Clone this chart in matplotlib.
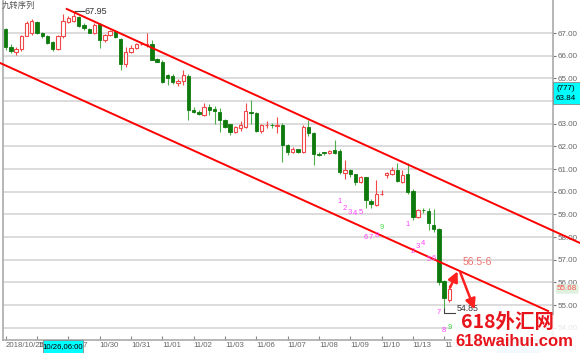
import matplotlib
matplotlib.use("Agg")
import matplotlib.pyplot as plt
from matplotlib.patches import Rectangle
import numpy as np

plt.rcParams["font.family"] = ["Liberation Sans", "Noto Sans CJK SC", "DejaVu Sans"]

# 4-hour candles (open, high, low, close)
opens = [67.16, 66.37, 66.15, 66.28, 66.87, 66.98, 67.50, 66.99, 66.87, 66.60,
         66.30, 66.87, 67.50, 67.54, 67.69, 67.35, 67.18, 67.01, 67.38, 66.69,
         66.90, 67.10, 66.74, 65.65, 66.16, 66.34, 66.50, 66.45, 66.50, 65.84,
         65.74, 65.15, 65.10, 64.78, 64.90, 65.10, 63.60, 63.53, 63.38, 63.75,
         63.64, 63.53, 63.16, 62.99, 62.65, 62.80, 62.84, 63.53, 63.46, 62.69,
         62.93, 62.95, 62.90, 62.96, 62.06, 61.77, 61.87, 61.77, 62.87, 62.57,
         61.66, 61.73, 61.69, 61.82, 61.80, 60.84, 60.95, 60.78, 60.44, 60.63,
         59.60, 59.41, 59.90, 60.75, 60.80, 60.95, 60.44, 60.80, 60.04, 58.90,
         59.19, 59.16, 58.53, 58.34, 56.08, 55.22]
highs = [67.20, 66.50, 66.40, 66.90, 67.55, 67.60, 67.55, 67.05, 66.90, 66.65,
         66.90, 67.85, 67.75, 67.95, 67.75, 67.45, 67.20, 67.45, 67.45, 66.95,
         67.15, 67.15, 66.80, 66.40, 66.45, 66.55, 66.58, 66.98, 66.70, 65.90,
         65.81, 65.20, 65.20, 64.98, 65.35, 65.20, 63.75, 63.60, 63.90, 63.85,
         63.80, 63.70, 63.20, 63.00, 62.90, 63.10, 63.90, 64.05, 63.53, 63.00,
         63.10, 63.05, 63.30, 63.05, 62.10, 61.98, 61.90, 62.95, 63.15, 62.65,
         61.75, 61.74, 61.85, 62.28, 61.90, 61.40, 61.00, 60.80, 60.70, 60.66,
         59.66, 60.51, 60.07, 60.88, 61.10, 61.25, 60.95, 61.25, 60.14, 59.25,
         59.26, 59.26, 59.22, 58.40, 56.10, 55.90]
lows = [66.25, 66.10, 66.05, 66.20, 66.85, 66.90, 66.95, 66.80, 66.50, 66.20,
        66.25, 66.80, 67.45, 67.50, 67.25, 67.15, 66.98, 66.95, 66.33, 66.60,
        66.85, 66.78, 65.37, 65.50, 66.10, 66.30, 66.45, 66.40, 65.80, 65.70,
        64.78, 64.70, 64.75, 64.67, 64.70, 63.16, 63.45, 63.40, 63.35, 63.40,
        63.00, 62.65, 62.80, 62.50, 62.60, 62.70, 62.80, 63.00, 62.65, 62.60,
        62.80, 62.80, 62.60, 61.32, 61.60, 61.72, 61.70, 61.70, 62.45, 61.17,
        61.58, 61.60, 61.65, 61.65, 60.80, 60.58, 60.66, 60.30, 60.40, 59.30,
        59.30, 59.37, 59.85, 60.60, 60.73, 60.44, 60.37, 59.92, 58.75, 58.85,
        59.07, 58.31, 58.23, 55.88, 54.85, 55.15]
closes = [66.40, 66.22, 66.30, 66.87, 67.46, 67.54, 66.99, 66.85, 66.57, 66.30,
          66.87, 67.54, 67.65, 67.75, 67.32, 67.20, 67.01, 67.35, 66.70, 66.91,
          67.10, 66.82, 65.65, 66.16, 66.34, 66.50, 66.52, 66.50, 65.82, 65.74,
          64.85, 65.00, 64.85, 64.90, 65.15, 63.60, 63.53, 63.43, 63.75, 63.60,
          63.55, 63.16, 62.87, 62.65, 62.84, 62.95, 63.57, 63.46, 62.69, 62.95,
          62.95, 62.94, 62.96, 62.06, 61.77, 61.90, 61.77, 62.87, 62.57, 61.66,
          61.64, 61.72, 61.81, 61.72, 60.88, 60.98, 60.78, 60.44, 60.66, 59.63,
          59.48, 59.92, 59.92, 60.82, 60.95, 60.48, 60.73, 60.00, 58.87, 59.19,
          59.18, 58.60, 58.34, 56.03, 55.30, 55.69]

day_ticks = [0, 6, 12, 18, 24, 30, 36, 42, 48, 54, 60, 66, 72, 78, 84, 90, 96]
day_labels = ["2018/10/25", "10/26", "10/27", "10/30", "10/31", "11/01", "11/02",
              "11/03", "11/06", "11/07", "11/08", "11/09", "11/10", "11/13",
              "11/14", "11/15", "11/16"]
price_ticks = list(range(54, 68))

# channel lines (candle index, price)
upper_x = [11.7, 110.0]
upper_y = [68.06, 57.74]
lower_x = [-1.1, 103.9]
lower_y = [65.68, 54.74]

# TD sequential counts (candle index, price, label)
td_idx = [64, 65, 66, 67, 68, 69, 70, 71, 72, 77, 78, 79, 80, 81, 82, 83, 84, 85]
td_val = [59.55, 59.24, 59.10, 59.02, 59.10, 58.00, 58.00, 58.09, 58.44,
          58.57, 57.35, 57.57, 57.72, 56.99, 57.07, 54.66, 53.90, 54.02]
td_lab = ["1", "2", "3", "4", "5", "6", "7", "8", "9",
          "1", "2", "3", "4", "5", "6", "7", "8", "9"]

W, H = 580, 353
fig = plt.figure(figsize=(W / 100, H / 100), dpi=100)
ax = fig.add_axes([3 / W, 13 / H, 550 / W, 340 / H])
ax.set_xlim(-0.52, 104.85)
ax.set_ylim(53.46, 68.456)

green = "#0e7a0e"
wick_green = "#4caf4c"
red = "#f04848"

for i in range(len(opens)):
    o, h, l, c = opens[i], highs[i], lows[i], closes[i]
    if c >= o:
        ax.vlines(i, l, h, color=red, lw=0.8, zorder=3)
        ax.add_patch(Rectangle((i - 0.32, o), 0.64, max(c - o, 0.02),
                               facecolor="white", edgecolor=red, lw=0.8, zorder=4))
    else:
        ax.vlines(i, l, h, color=wick_green, lw=0.8, zorder=3)
        ax.add_patch(Rectangle((i - 0.32, c), 0.64, max(o - c, 0.02),
                               facecolor=green, edgecolor=green, lw=0.6, zorder=4))

# channel
ax.plot(upper_x, upper_y, color="#ff0000", lw=1.4, clip_on=False, zorder=5)
ax.plot(lower_x, lower_y, color="#ff0000", lw=1.4, clip_on=False, zorder=5)

# TD counts
for x, y, t in zip(td_idx, td_val, td_lab):
    col = "#44dd44" if t == "9" else "#ff44ff"
    ax.text(x, y, t, color=col, fontsize=5.5, ha="center", va="center", zorder=6)

# high marker
ax.plot([13.3, 15.0], [67.95, 67.95], color="#444444", lw=0.8)
ax.text(15.1, 67.95, "67.95", fontsize=6.5, color="#333333", va="center")
# low marker
ax.plot([84, 84, 86], [54.85, 54.65, 54.65], color="#444444", lw=0.8)
ax.text(86.4, 54.85, "54.85", fontsize=6.3, color="#333333", va="center")

# arrows
ax.annotate("", xy=(86.8, 56.6), xytext=(84.9, 55.66),
            arrowprops=dict(arrowstyle="-|>,head_width=0.3,head_length=0.6",
                            color="#ff2020", lw=1.8), zorder=7)
ax.annotate("", xy=(90.0, 54.7), xytext=(86.9, 56.55),
            arrowprops=dict(arrowstyle="-|>,head_width=0.3,head_length=0.6",
                            color="#ff2020", lw=1.8), zorder=7)
ax.text(87.6, 56.9, "56.5-6", fontsize=7.5, color="#f07070", va="center", zorder=7)

# axes styling
ax.set_yticks(price_ticks)
ax.set_yticklabels(["%.2f" % p for p in price_ticks])
ax.yaxis.tick_right()
ax.tick_params(axis="y", length=2, pad=1.5, labelsize=5.8, colors="#777777",
               labelcolor="#666666")
ax.grid(axis="y", color="#d9d9d9", lw=1.3)
ax.set_axisbelow(True)
ax.set_xticks(day_ticks)
ax.set_xticklabels(day_labels, ha="left")
ax.tick_params(axis="x", length=3, pad=1.5, labelsize=5.6, colors="#888888",
               labelcolor="#666666", direction="in")
ax.spines["top"].set_visible(False)
for s in ["left", "right", "bottom"]:
    ax.spines[s].set_color("#aaaaaa")
    ax.spines[s].set_linewidth(1.2)

fig.text(2 / W, 1 - 1 / H, "九转序列", fontsize=6, color="#555555", va="top",
         family=["Noto Sans CJK SC", "DejaVu Sans"])

# bottom highlighted date
fig.add_artist(Rectangle((43 / W, 0), 40 / W, 13 / H, transform=fig.transFigure,
                         facecolor="#00ffff", edgecolor="#888888", lw=0.6))
fig.text(63 / W, 6 / H, "10/26,06:00", fontsize=5.6, ha="center", va="center")
fig.add_artist(Rectangle((497 / W, 0), 43 / W, 12 / H, transform=fig.transFigure,
                         facecolor="#b8d8f8", edgecolor="none"))

# right axis price tags
fig.add_artist(Rectangle((553 / W, 1 - 104 / H), 27 / W, 22 / H, transform=fig.transFigure,
                         facecolor="#00ffff", edgecolor="#888888", lw=0.6))
fig.text(566 / W, 1 - 88 / H, "(777)", fontsize=5.8, ha="center", va="center")
fig.text(566 / W, 1 - 99 / H, "63.84", fontsize=5.8, ha="center", va="center")
fig.text(557 / W, 1 - 289 / H, "55.68", fontsize=5.8, color="#ff5050", va="center",
         bbox=dict(boxstyle="round,pad=0.15", facecolor="#dff0df", edgecolor="none"))

# watermark
fig.add_artist(Rectangle((452 / W, 0), 128 / W, 38 / H, transform=fig.transFigure,
                         facecolor="white", edgecolor="none", alpha=0.85))
fig.text(508 / W, 1 - 322 / H, "618外汇网", fontsize=14, fontweight="bold",
         color="#e8141c", ha="center", va="center",
         family=["Noto Sans CJK SC", "DejaVu Sans"])
fig.text(514 / W, 1 - 342 / H, "618waihui.com", fontsize=12, fontweight="bold",
         color="#e8141c", ha="center", va="center")

fig.savefig("out.png", dpi=100)
